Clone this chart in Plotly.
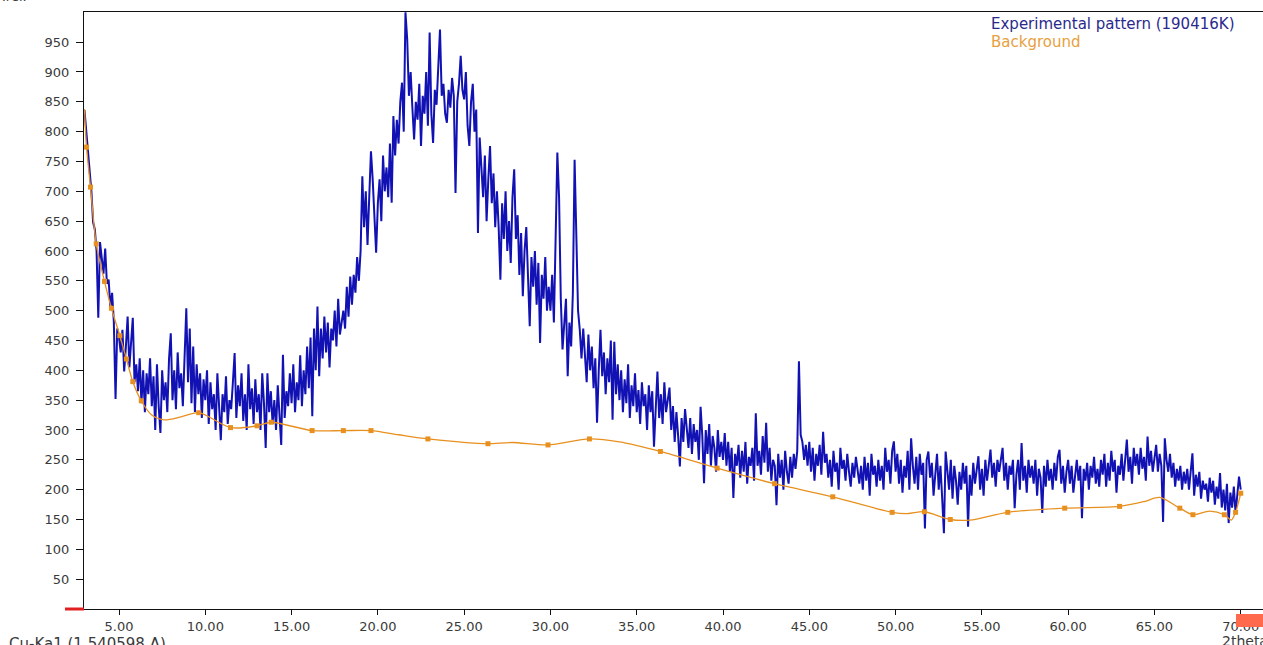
import plotly.graph_objects as go

# ---------------- data ----------------
theta_start = 3.0
theta_step = 0.1

intensity = [
    836, 805, 770, 738, 700, 648, 636, 600, 488, 615,
    590, 562, 604, 545, 552, 505, 530, 482, 352, 470,
    455, 430, 468, 398, 440, 490, 405, 450, 488, 380,
    410, 365, 420, 345, 400, 330, 395, 360, 420, 340,
    390, 300, 410, 340, 295, 400, 350, 380, 330, 420,
    462, 350, 400, 335, 430, 370, 395, 340, 420, 504,
    380, 470, 345, 440, 330, 410, 360, 395, 320, 385,
    350, 400, 310, 380, 335, 360, 300, 395, 340, 283,
    360, 330, 390, 310, 350, 335, 380, 429, 320, 375,
    340, 395, 315, 360, 300, 410, 335, 370, 310, 385,
    330, 360, 300, 395, 345, 270, 395, 330, 365, 310,
    350, 300, 375, 330, 275, 426, 320, 365, 340, 395,
    345, 410, 330, 380, 350, 425, 340, 400, 360, 440,
    370, 455, 323, 470, 400, 507, 390, 470, 420, 490,
    430, 480, 405, 470, 450, 500, 440, 520, 460, 480,
    500, 470, 540, 490, 557, 510, 560, 530, 590, 550,
    600, 725, 640, 700, 610, 690, 767, 720, 660, 597,
    680, 720, 650, 760, 700, 740, 690, 780, 681, 826,
    760, 820, 780, 850, 882, 800, 1000, 955, 860, 900,
    840, 787, 850, 820, 880, 776, 860, 830, 900, 810,
    966, 830, 781, 870, 845, 900, 971, 860, 880, 830,
    815, 870, 840, 890, 860, 697, 850, 880, 927, 870,
    854, 900, 810, 776, 850, 880, 800, 837, 630, 790,
    740, 690, 760, 650, 720, 776, 680, 730, 640, 700,
    640, 552, 680, 620, 700, 600, 650, 580, 690, 737,
    620, 660, 560, 630, 524, 600, 640, 560, 474, 590,
    540, 600, 510, 580, 446, 560, 520, 590, 500, 540,
    500, 560, 480, 620, 765, 690, 520, 435, 480, 520,
    390, 480, 440, 530, 753, 600, 500, 468, 420, 470,
    430, 380, 460, 400, 440, 370, 420, 312, 400, 468,
    390, 430, 360, 420, 380, 450, 317, 448, 360, 410,
    350, 400, 330, 385, 345, 410, 320, 375, 340, 395,
    330, 367, 310, 380, 340, 360, 300, 375, 330, 365,
    272, 350, 398, 320, 360, 310, 380, 330, 355, 371,
    300, 340, 280, 330, 290, 239, 320, 280, 335, 300,
    270, 320, 260, 310, 280, 300, 250, 339, 290, 211,
    300, 260, 310, 240, 290, 270, 230, 300, 255, 280,
    250, 295, 240, 280, 230, 270, 186, 260, 240, 275,
    220, 265, 230, 280, 210, 255, 240, 270, 215, 328,
    240, 265, 225, 290, 245, 312, 230, 270, 215, 250,
    240, 174, 260, 220, 250, 200, 265, 230, 210, 255,
    220, 260, 235, 265, 415, 292, 280, 250, 275, 240,
    280, 230, 270, 215, 260, 240, 275, 225, 297, 245,
    260, 220, 250, 205, 265, 230, 245, 200, 270, 235,
    250, 215, 260, 230, 205, 245, 220, 255, 230, 210,
    240, 200, 255, 215, 245, 190, 260, 225, 240, 205,
    250, 215, 240, 200, 270, 230, 250, 210, 265, 281,
    230, 260, 210, 250, 195, 240, 220, 265, 200, 286,
    240, 210, 255, 200, 260, 225, 245, 135, 250, 264,
    220, 245, 190, 230, 260, 200, 240, 185, 127, 264,
    230, 200, 250, 185, 240, 215, 175, 230, 200, 245,
    210, 240, 138, 225, 190, 245, 210, 235, 256, 200,
    235, 190, 250, 215, 240, 267, 220, 245, 205, 250,
    230, 255, 270, 215, 245, 200, 240, 225, 250, 169,
    225, 250, 200, 278, 215, 240, 195, 250, 220, 240,
    210, 250, 190, 235, 220, 161, 240, 205, 250, 215,
    235, 200, 245, 215, 255, 267, 210, 240, 195, 230,
    250, 210, 240, 195, 230, 250, 215, 240, 152, 235,
    215, 245, 200, 240, 220, 255, 210, 235, 205, 250,
    225, 260, 205, 245, 215, 265, 230, 250, 195, 240,
    225, 260, 215, 250, 284, 230, 255, 210, 270, 240,
    260, 225, 270, 235, 255, 215, 289, 240, 265, 230,
    255, 275, 230, 260, 240, 146, 286, 250, 230, 260,
    220, 245, 205, 235, 215, 240, 200, 230, 210, 235,
    200, 225, 261, 190, 225, 205, 230, 185, 215, 200,
    210, 180, 220, 195, 215, 175, 205, 185, 228, 170,
    200, 165, 210, 144, 195, 170, 205, 160, 190, 222,
    200,
]

bg_curve_theta = [3.00, 3.12, 3.35, 3.68, 4.16, 4.56, 5.05, 5.43, 5.80, 6.29,
                  6.90, 7.60, 8.60, 9.62, 11.46, 13.00, 13.82, 16.19, 18.00, 19.60,
                  21.20, 22.90, 24.70, 26.38, 27.80, 29.86, 32.26, 34.00, 36.37, 39.66,
                  42.99, 46.36, 49.80, 50.70, 51.67, 53.17, 54.30, 56.50, 59.80, 62.98,
                  64.40, 65.30, 66.47, 67.23, 68.20, 69.05, 69.45, 69.70, 70.00]
bg_curve_val = [838, 774, 707, 612, 549, 504, 458, 419, 381, 349,
                325, 317, 322, 329, 304, 307, 313, 299, 299, 299,
                292, 285, 280, 277, 279, 275, 285, 280, 264, 236,
                210, 188, 162, 160, 163, 150, 149, 162, 169, 172,
                180, 187, 169, 158, 164, 158, 149, 162, 194]

bg_anchor_theta = [3.12, 3.35, 3.68, 4.16, 4.56, 5.05, 5.43, 5.80, 6.29, 9.62,
                   11.46, 13.00, 13.82, 16.19, 18.00, 19.60, 22.90, 26.38, 29.86, 32.26,
                   36.37, 39.66, 42.99, 46.36, 49.80, 51.67, 53.17, 56.50, 59.80, 62.98,
                   66.47, 67.23, 69.05, 69.70, 70.00]
bg_anchor_val = [774, 707, 612, 549, 504, 458, 419, 381, 349, 329,
                 304, 307, 313, 299, 299, 299, 285, 277, 275, 285,
                 264, 236, 210, 188, 162, 163, 150, 162, 169, 172,
                 169, 158, 158, 162, 194]

x_tick_vals = [5, 10, 15, 20, 25, 30, 35, 40, 45, 50, 55, 60, 65, 70]
x_tick_text = ["5.00", "10.00", "15.00", "20.00", "25.00", "30.00", "35.00",
               "40.00", "45.00", "50.00", "55.00", "60.00", "65.00", "70.00"]
y_tick_vals = [50, 100, 150, 200, 250, 300, 350, 400, 450, 500,
               550, 600, 650, 700, 750, 800, 850, 900, 950]

series_names = ["Experimental pattern (190416K)", "Background"]

# ---------------- figure ----------------
two_theta = [round(theta_start + theta_step * i, 2) for i in range(len(intensity))]

BLUE = "#1212b4"
ORANGE = "#e8901f"
FONT = "DejaVu Sans"

fig = go.Figure()
fig.add_trace(go.Scatter(x=two_theta, y=intensity, mode="lines",
                         line=dict(color=BLUE, width=2.0),
                         name=series_names[0], showlegend=False,
                         hoverinfo="x+y"))
fig.add_trace(go.Scatter(x=bg_curve_theta, y=bg_curve_val, mode="lines",
                         line=dict(color=ORANGE, width=1.3, shape="spline", smoothing=0.8),
                         name=series_names[1], showlegend=False))
fig.add_trace(go.Scatter(x=bg_anchor_theta, y=bg_anchor_val, mode="markers",
                         marker=dict(color=ORANGE, size=5, symbol="square"),
                         name=series_names[1], showlegend=False))

W, H = 1263, 645
L, R, T, B = 84, 0, 12, 36
pw = W - L - R
ph = H - T - B

def px_x(p):
    return (p - L) / pw

def px_y(p):
    return (H - B - p) / ph

fig.update_layout(
    width=W, height=H,
    margin=dict(l=L, r=R, t=T, b=B, pad=0),
    paper_bgcolor="white", plot_bgcolor="white",
    font=dict(family=FONT, size=13, color="#3a3a3a"),
    xaxis=dict(range=[2.972, 71.29], showgrid=False, zeroline=False,
               showline=True, linecolor="#111111", linewidth=1, mirror=True,
               ticks="outside", ticklen=5, tickwidth=1, tickcolor="#111111",
               tickvals=x_tick_vals, ticktext=x_tick_text,
               tickfont=dict(family=FONT, size=13, color="#3a3a3a")),
    yaxis=dict(range=[0, 1000.5], showgrid=False, zeroline=False,
               showline=True, linecolor="#111111", linewidth=1,
               ticks="outside", ticklen=7, tickwidth=1, tickcolor="#111111",
               tickvals=y_tick_vals, ticklabelstandoff=4,
               tickfont=dict(family=FONT, size=13, color="#3a3a3a")),
    showlegend=False,
)

fig.add_annotation(xref="paper", yref="paper", x=px_x(989), y=px_y(24),
                   xanchor="left", yanchor="middle", showarrow=False,
                   text=series_names[0],
                   font=dict(family=FONT, size=15, color="#2a2a8c"))
fig.add_annotation(xref="paper", yref="paper", x=px_x(989), y=px_y(42),
                   xanchor="left", yanchor="middle", showarrow=False,
                   text=series_names[1],
                   font=dict(family=FONT, size=15, color="#e8a040"))
fig.add_annotation(xref="paper", yref="paper", x=px_x(0), y=px_y(6),
                   xanchor="left", yanchor="bottom", showarrow=False,
                   text="Irel.",
                   font=dict(family=FONT, size=13, color="#3a3a3a"))
fig.add_annotation(xref="paper", yref="paper", x=px_x(7), y=px_y(633),
                   xanchor="left", yanchor="top", showarrow=False,
                   text="Cu-Ka1 (1.540598 A)",
                   font=dict(family=FONT, size=15, color="#3a3a3a"))
fig.add_annotation(xref="paper", yref="paper", x=px_x(1220), y=px_y(631),
                   xanchor="left", yanchor="top", showarrow=False,
                   text="2theta",
                   font=dict(family=FONT, size=14, color="#3a3a3a"))

# red marker at the origin and orange-red box at lower right
fig.add_shape(type="line", xref="paper", yref="paper",
              x0=px_x(65), x1=px_x(84), y0=px_y(609), y1=px_y(609),
              line=dict(color="#e02020", width=3), layer="above")
fig.add_shape(type="rect", xref="paper", yref="paper",
              x0=px_x(1236), x1=1.0, y0=px_y(614), y1=px_y(627),
              fillcolor="#ff6a4c", line=dict(width=0), layer="above")

fig.write_html("out.html", config={"displayModeBar": False},
               post_script="document.body.style.margin='0';document.body.style.overflow='hidden';")
